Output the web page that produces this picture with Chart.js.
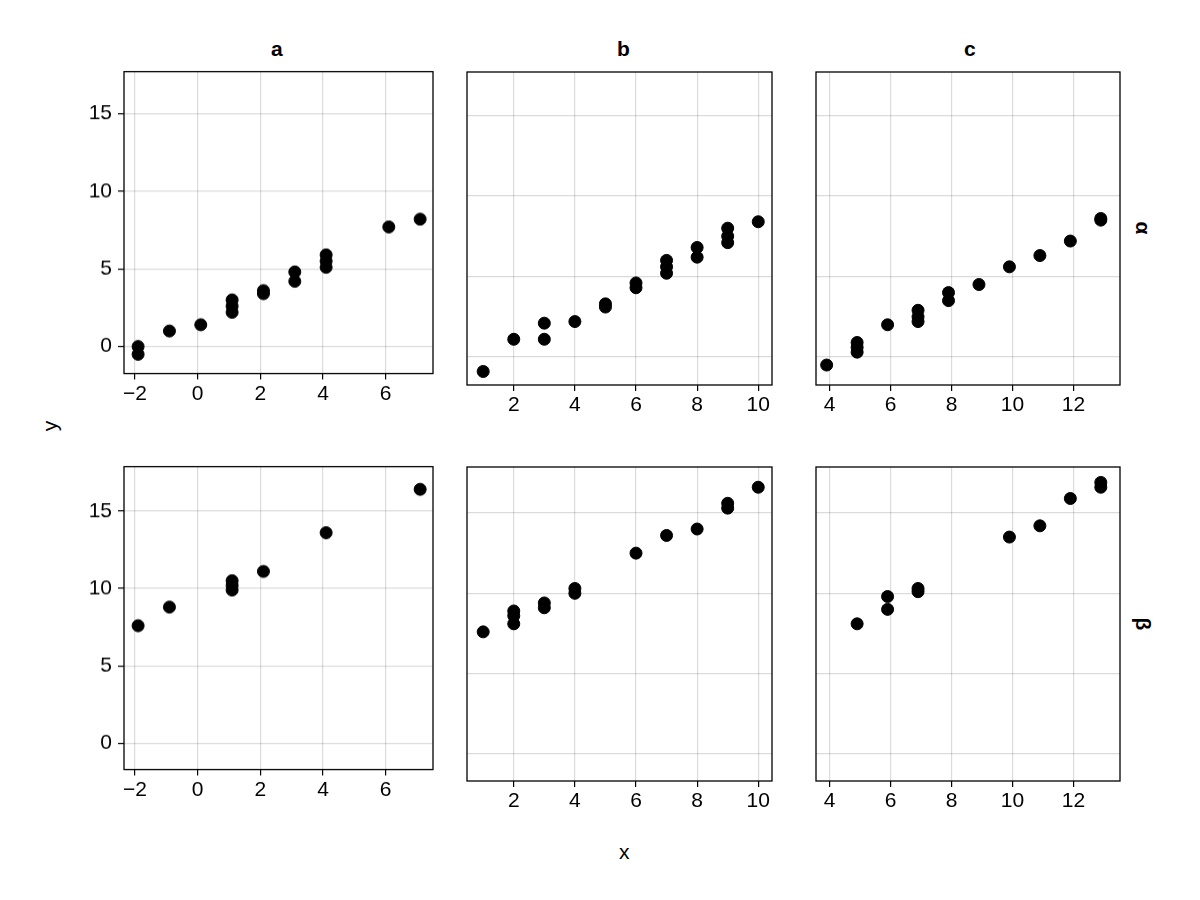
<!DOCTYPE html>
<html><head><meta charset="utf-8">
<script src="https://cdn.jsdelivr.net/npm/chart.js@4"></script>
<style>
body{margin:0;background:#fff;width:1200px;height:900px;position:relative;overflow:hidden;font-family:"Liberation Sans",Arial,sans-serif}
canvas{position:absolute}
.t{position:absolute;font-size:21px;color:#000}
</style></head><body>
<div class="t" style="left:271px;top:37px;font-weight:bold">a</div>
<div class="t" style="left:617px;top:37px;font-weight:bold">b</div>
<div class="t" style="left:964px;top:37px;font-weight:bold">c</div>
<div class="t" style="left:45px;top:414px;transform:rotate(-90deg)">y</div>
<div class="t" style="left:619px;top:840px">x</div>
<div class="t" style="left:1137px;top:216px;transform:rotate(90deg);font-weight:bold">α</div>
<div class="t" style="left:1137px;top:612px;transform:rotate(90deg);font-weight:bold">β</div>
<script>
// data per panel: [x, y]
var aAlphaX = [-1.9,-1.9,-0.9,0.1,1.1,1.1,1.1,2.1,2.1,3.1,3.1,4.1,4.1,4.1,6.1,7.1];
var aAlphaY = [0,-0.5,1,1.4,3,2.6,2.2,3.6,3.4,4.8,4.2,5.9,5.5,5.1,7.7,8.2];
var bAlphaX = [1,2,3,3,4,5,5,6,6,7,7,7,8,8,9,9,9,10];
var bAlphaY = [-0.9,1.1,2.1,1.1,2.2,3.3,3.1,4.6,4.3,6,5.6,5.2,6.8,6.2,8,7.5,7.1,8.4];
var cAlphaX = [3.9,4.9,4.9,4.9,5.9,6.9,6.9,6.9,7.9,7.9,8.9,9.9,10.9,11.9,12.9,12.9];
var cAlphaY = [-0.5,0.9,0.6,0.3,2,2.9,2.5,2.2,4,3.5,4.5,5.6,6.3,7.2,8.5,8.6];
var aBetaX = [-1.9,-0.9,1.1,1.1,1.1,2.1,4.1,7.1];
var aBetaY = [7.6,8.8,10.5,10.2,9.9,11.1,13.6,16.4];
var bBetaX = [1,2,2,2,3,3,4,4,6,7,8,9,9,10];
var bBetaY = [7.6,8.9,8.6,8.1,9.4,9.1,10.3,10,12.5,13.6,14,15.6,15.3,16.6];
var cBetaX = [4.9,5.9,5.9,6.9,6.9,9.9,10.9,11.9,12.9,12.9];
var cBetaY = [8.1,9.8,9,10.3,10.1,13.5,14.2,15.9,16.9,16.6];

var xTicksA = [-2,0,2,4,6], xTicksB = [2,4,6,8,10], xTicksC = [4,6,8,10,12];
var yTicks = [0,5,10,15];

var box = {id:'box', afterDraw:function(c){var a=c.chartArea,x=c.ctx;x.save();x.strokeStyle='#000';x.lineWidth=1.3;x.strokeRect(a.left,a.top,a.right-a.left,a.bottom-a.top);x.restore();}};

function panel(xs, ys, xmin, xmax, xt, left, top, right, bottom, showY, ymin, ymax) {
  var yw = showY ? 64 : 0;
  var cv = document.createElement('canvas');
  var L = left - yw, T = top, W = right - L, H = bottom - top + 40;
  function place() {
    cv.style.left = L + 'px'; cv.style.top = T + 'px';
  }
  place();
  cv.style.width = W + 'px'; cv.style.height = H + 'px';
  cv.width = W; cv.height = H;
  document.body.appendChild(cv);
  var pts = xs.map(function (v, i) { return {x: v, y: ys[i]}; });
  var grid = {color: 'rgba(0,0,0,0.14)', tickColor: '#000', tickLength: 6, lineWidth: 1.2};
  var font = {family: '"Liberation Sans", Arial, sans-serif', size: 21};
  var chart = new Chart(cv, {
    type: 'scatter',
    data: {datasets: [{data: pts, backgroundColor: '#000', borderColor: '#000', pointRadius: 6, pointHoverRadius: 6}]},
    options: {
      responsive: false, animation: false,
      plugins: {legend: {display: false}, tooltip: {enabled: false}},
      scales: {
        x: {type: 'linear', min: xmin, max: xmax, border: {display: false}, grid: grid,
            afterBuildTicks: function (s) { s.ticks = xt.map(function (v) { return {value: v}; }); },
            afterFit: function (s) { s.height = 40; },
            ticks: {color: '#000', font: font, padding: 2, maxRotation: 0,
                    callback: function (v) { return String(v).replace('-', '\u2212'); }}},
        y: {type: 'linear', min: ymin, max: ymax, border: {display: false},
            grid: Object.assign({}, grid, {drawTicks: showY}),
            afterBuildTicks: function (s) { s.ticks = yTicks.map(function (v) { return {value: v}; }); },
            afterFit: function (s) { s.width = yw; },
            ticks: {display: showY, color: '#000', font: font, padding: 6}}
      }
    },
    plugins: [box]
  });
  // shift and grow the canvas so the plot area lands on the target box
  for (var k = 0; k < 3; k++) {
    var a = chart.chartArea;
    L += left - (L + a.left); T += top - (T + a.top);
    W += (right - left) - (a.right - a.left);
    H += (bottom - top) - (a.bottom - a.top);
    place();
    chart.resize(W, H);
  }
}

panel(aAlphaX, aAlphaY, -2.35, 7.51, xTicksA, 124, 72, 433, 385, true, -1.74, 17.7);
panel(bAlphaX, bAlphaY, 0.47, 10.45, xTicksB, 467, 72, 780, 385, false, -1.74, 17.7);
panel(cAlphaX, cAlphaY, 3.55, 13.53, xTicksC, 816, 72, 1128, 385, false, -1.74, 17.7);
panel(aBetaX, aBetaY, -2.35, 7.51, xTicksA, 124, 467, 433, 781, true, -1.68, 17.86);
panel(bBetaX, bBetaY, 0.47, 10.45, xTicksB, 467, 467, 780, 781, false, -1.68, 17.86);
panel(cBetaX, cBetaY, 3.55, 13.53, xTicksC, 816, 467, 1128, 781, false, -1.68, 17.86);
</script>
</body></html>
